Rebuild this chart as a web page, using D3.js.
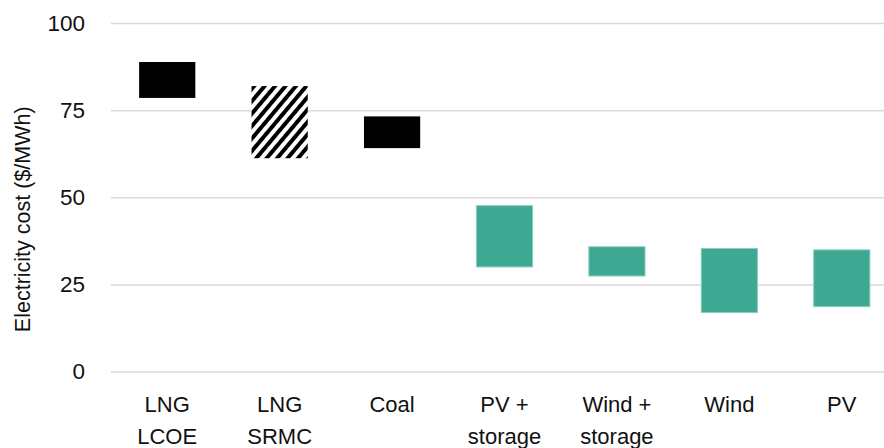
<!DOCTYPE html>
<html>
<head>
<meta charset="utf-8">
<script src="https://cdn.jsdelivr.net/npm/d3@7"></script>
<style>
  html, body { margin: 0; padding: 0; background: #fff; }
  svg { display: block; font-family: "Liberation Sans", Arial, sans-serif; }
</style>
</head>
<body>
<svg id="chart" width="884" height="448"></svg>
<script>
// Electricity cost ranges ($/MWh) by technology
const categories = [["LNG", "LCOE"], ["LNG", "SRMC"], ["Coal"], ["PV +", "storage"], ["Wind +", "storage"], ["Wind"], ["PV"]];
const lowValues  = [78.5, 61.2, 64.1, 30.0, 27.4, 16.9, 18.6];
const highValues = [88.8, 81.9, 73.2, 47.6, 35.8, 35.3, 34.9];
const barStyles  = ["solid", "hatch", "solid", "teal", "teal", "teal", "teal"];
const yTicks = [0, 25, 50, 75, 100];
const yTitle = "Electricity cost ($/MWh)";

const svg = d3.select("#chart");
const margin = { left: 111, top: 23, bottom: 77 };
const H = 448;

const x = d3.scaleBand()
  .domain(d3.range(categories.length))
  .range([margin.left, 898])
  .paddingInner(0.5)
  .paddingOuter(0.25);

const y = d3.scaleLinear().domain([0, 100]).range([H - margin.bottom + 0.5, margin.top]);

// Diagonal hatch pattern
const defs = svg.append("defs");
const pat = defs.append("pattern")
  .attr("id", "hatch")
  .attr("patternUnits", "userSpaceOnUse")
  .attr("width", 8).attr("height", 8)
  .attr("patternTransform", "rotate(40)");
pat.append("rect").attr("width", 8).attr("height", 8).attr("fill", "#fff");
pat.append("rect").attr("width", 4).attr("height", 8).attr("fill", "#000");

// Gridlines + tick labels
const yAxis = d3.axisLeft(y).tickValues(yTicks).tickSize(-(884 - margin.left)).tickPadding(26);
const gy = svg.append("g").attr("transform", `translate(${margin.left},0)`).call(yAxis);
gy.select(".domain").remove();
gy.selectAll(".tick line").attr("stroke", "#d9d9d9").attr("stroke-width", 1.5);
gy.selectAll(".tick text").attr("fill", "#111").attr("font-size", 22.5).attr("font-family", "Liberation Sans, Arial, sans-serif");

// Axis title
svg.append("text")
  .attr("transform", `translate(30,${(y(0) + y(100)) / 2 + 22}) rotate(-90)`)
  .attr("text-anchor", "middle")
  .attr("font-size", 21.5)
  .attr("fill", "#111")
  .text(yTitle);

// Range bars
const fills = { solid: "#000", hatch: "url(#hatch)", teal: "#3fa893" };
svg.append("g").selectAll("rect")
  .data(d3.range(categories.length))
  .join("rect")
  .attr("x", i => x(i))
  .attr("width", x.bandwidth())
  .attr("y", i => y(highValues[i]))
  .attr("height", i => y(lowValues[i]) - y(highValues[i]))
  .attr("fill", i => fills[barStyles[i]])
  .attr("stroke", i => barStyles[i] === "teal" ? "#8ccfc0" : "none")
  .attr("stroke-width", 1);

// Category labels
const gx = svg.append("g");
categories.forEach((lines, i) => {
  const t = gx.append("text")
    .attr("x", x(i) + x.bandwidth() / 2)
    .attr("y", 412)
    .attr("text-anchor", "middle")
    .attr("font-size", 22)
    .attr("fill", "#111");
  lines.forEach((ln, k) => {
    t.append("tspan").attr("x", x(i) + x.bandwidth() / 2).attr("dy", k === 0 ? 0 : 32).text(ln);
  });
});
</script>
</body>
</html>
